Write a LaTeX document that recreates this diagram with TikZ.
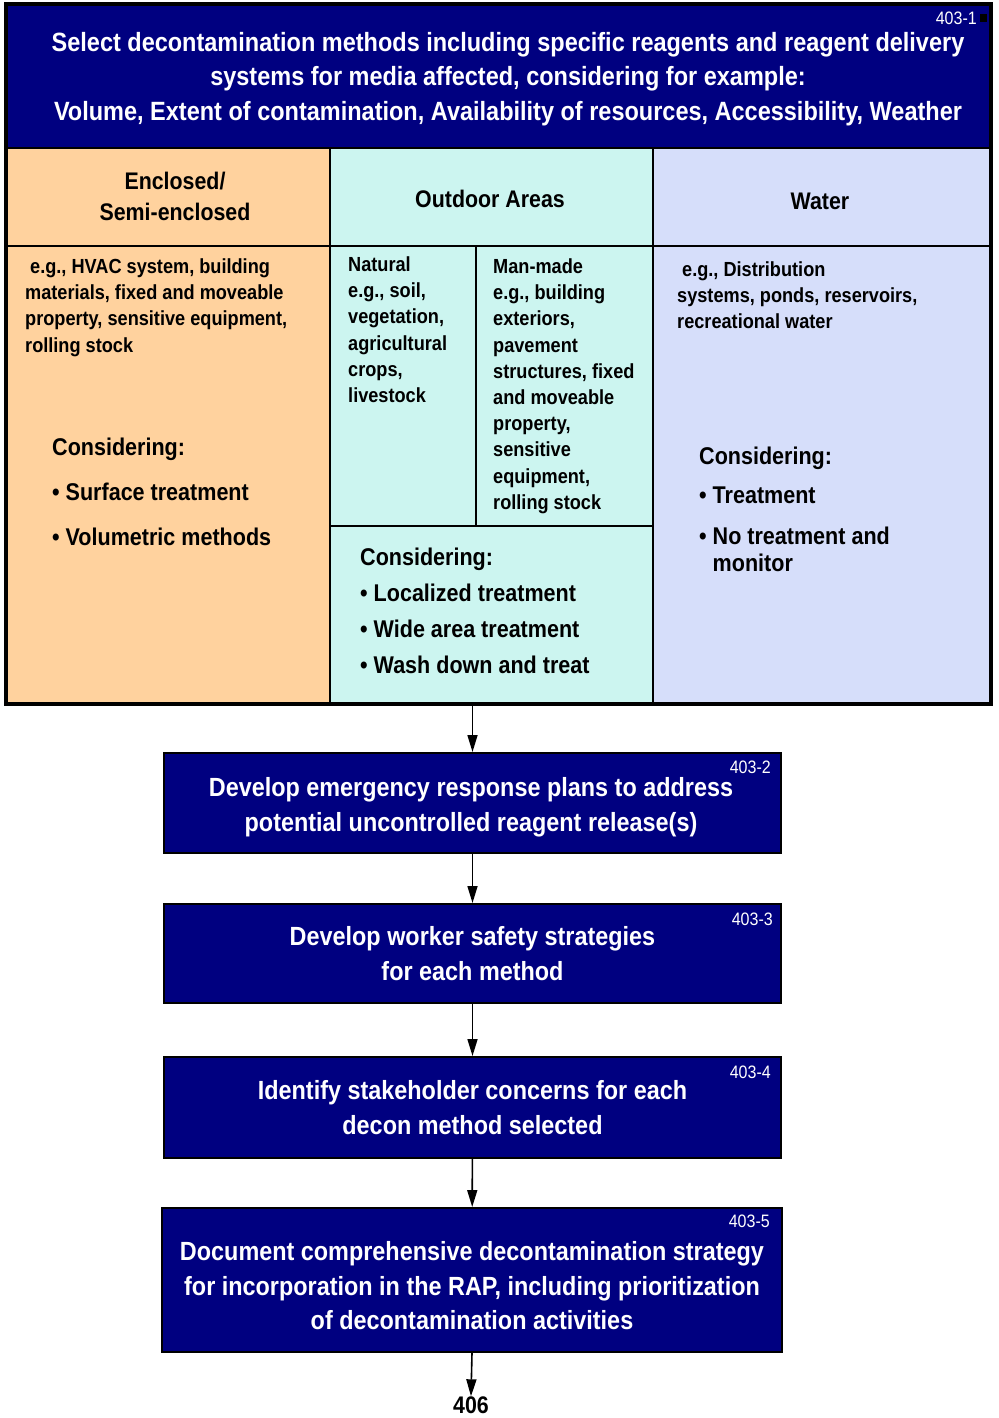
\documentclass[tikz,border=0pt]{standalone}
\usepackage{fontspec}
\setmainfont{Liberation Sans}[FakeStretch=0.89]
\usetikzlibrary{arrows.meta}
\definecolor{navy}{RGB}{0,0,128}
\definecolor{peach}{RGB}{255,210,158}
\definecolor{aqua}{RGB}{204,245,240}
\definecolor{lilac}{RGB}{214,222,250}
\tikzset{
  stepbox/.style={draw=black, line width=2pt, fill=navy, minimum width=617pt, inner sep=0pt},
  steptext/.style={text=white, align=center, inner sep=0pt,
    font=\fontsize{26.3}{34.5}\selectfont\bfseries},
  tag/.style={text=white, font=\fontsize{18}{20}\selectfont, inner sep=0pt, anchor=east},
  body/.style={align=left, inner sep=0pt, anchor=north west, font=\fontsize{20.4}{26.2}\selectfont\bfseries},
  consid/.style={align=left, inner sep=0pt, anchor=north west, font=\fontsize{24.2}{36}\selectfont\bfseries},
  head/.style={align=center, inner sep=0pt, font=\fontsize{24}{31}\selectfont\bfseries},
  arr/.style={line width=1.6pt, -{Triangle[length=17pt,width=10pt]}},
  rule/.style={line width=2pt}
}
\begin{document}
\begin{tikzpicture}[x=1pt,y=-1pt]
\useasboundingbox (0,0) rectangle (998,1418);

% coloured panels of the selection block
\fill[navy] (6,4) rectangle (991,148);
\fill[peach] (6,148) rectangle (330,704);
\fill[aqua] (330,148) rectangle (653,704);
\fill[lilac] (653,148) rectangle (991,704);
\draw[rule] (6,148) -- (991,148);
\draw[rule] (6,246) -- (991,246);
\draw[rule] (330,148) -- (330,704);
\draw[rule] (653,148) -- (653,704);
\draw[rule] (476,246) -- (476,526);
\draw[rule] (330,526) -- (653,526);
\node[draw=black, line width=4pt, minimum width=985pt, minimum height=700pt, inner sep=0pt] (top) at (498.5,354) {};
\fill[black] (980,14) rectangle (987,22);

% header text
\node[tag] (t1) at (977,18) {403-1};
\node[steptext, font=\fontsize{26.4}{34.5}\selectfont\bfseries] (title) at (508,79)
  {Select decontamination methods including specific reagents and reagent delivery\\
   systems for media affected, considering for example:\\
   Volume, Extent of contamination, Availability of resources, Accessibility, Weather};

% column headings
\node[head] (h1) at (175,196.5) {Enclosed/\\Semi-enclosed};
\node[head] (h2) at (490,199) {Outdoor Areas};
\node[head] (h3) at (820,201) {Water};

% enclosed column
\node[body] (e1) at (25,258.5) {\hspace{5pt}e.g., HVAC system, building\\materials, fixed and moveable\\property, sensitive equipment,\\rolling stock};
\node[consid] (e2) at (52,438) {Considering:};
\node[consid] (e3) at (52,483) {\textbullet\ Surface treatment\\[9pt]\textbullet\ Volumetric methods};

% outdoor column
\node[body] (o1) at (348,256.5) {Natural\\e.g., soil,\\vegetation,\\agricultural\\crops,\\livestock};
\node[body] (o2) at (493,258.5) {Man-made\\e.g., building\\exteriors,\\pavement\\structures, fixed\\and moveable\\property,\\sensitive\\equipment,\\rolling stock};
\node[consid] (o3) at (360,548) {Considering:\\\textbullet\ Localized treatment\\\textbullet\ Wide area treatment\\\textbullet\ Wash down and treat};

% water column
\node[body] (w1) at (677,261.5) {\hspace{5pt}e.g., Distribution\\systems, ponds, reservoirs,\\recreational water};
\node[consid] (w2) at (699,447) {Considering:};
\node[consid, font=\fontsize{24.2}{27}\selectfont\bfseries] (w3) at (699,487)
  {\textbullet\ Treatment\\[14pt]\textbullet\ No treatment and\\\phantom{\textbullet\ }monitor};

% follow-on steps
\node[stepbox, minimum height=100pt] (b2) at (472.5,803) {};
\node[steptext] (b2t) at (471,807) {Develop emergency response plans to address\\potential uncontrolled reagent release(s)};
\node[tag] (b2n) at (771,767) {403-2};
\node[stepbox, minimum height=99pt] (b3) at (472.5,953.5) {};
\node[steptext] (b3t) at (472.5,953.5) {Develop worker safety strategies\\for each method};
\node[tag] (b3n) at (773,919) {403-3};
\node[stepbox, minimum height=101pt] (b4) at (472.5,1107.5) {};
\node[steptext] (b4t) at (472.5,1107.5) {Identify stakeholder concerns for each\\decon method selected};
\node[tag] (b4n) at (771,1072) {403-4};
\node[stepbox, minimum height=144pt, minimum width=620pt] (b5) at (472,1280) {};
\node[steptext] (b5t) at (472,1286) {Document comprehensive decontamination strategy\\for incorporation in the RAP, including prioritization\\of decontamination activities};
\node[tag] (b5n) at (770,1221) {403-5};
\node[inner sep=0pt, font=\fontsize{24}{28}\selectfont\bfseries] (n406) at (471,1405) {406};

% connectors
\draw[arr] (top.south -| b2.north) -- (b2.north);
\draw[arr] (b2) -- (b3);
\draw[arr] (b3) -- (b4);
\draw[arr] (b4) -- (b5);
\draw[arr] (b5.south) -- (n406.north);
\end{tikzpicture}
\end{document}
